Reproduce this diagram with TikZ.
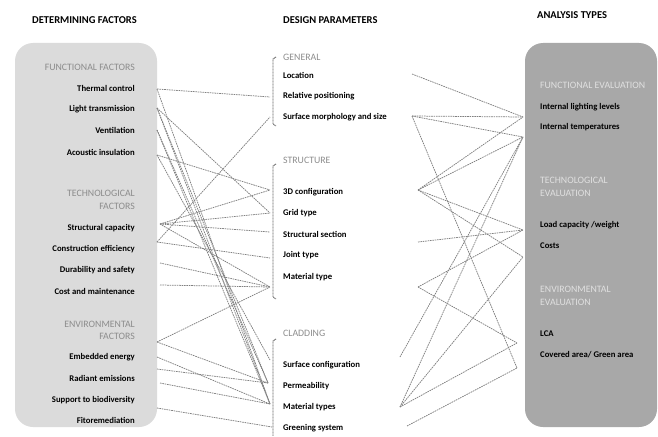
\documentclass[tikz,border=0pt]{standalone}
\usepackage{fontspec}
\setmainfont{Carlito}
\usetikzlibrary{positioning}
\tikzset{
  title/.style={font=\fontsize{10.5}{12}\selectfont\bfseries, anchor=west, inner sep=0pt},
  factor/.style={font=\fontsize{8.7}{10}\selectfont\bfseries, anchor=east, inner sep=0pt},
  param/.style={font=\fontsize{8.7}{10}\selectfont\bfseries, anchor=west, inner sep=0pt},
  group/.style={font=\fontsize{9.8}{12.3}\selectfont, text=black!45, inner sep=0pt},
  evalgroup/.style={group, text=black!12, anchor=west, align=left},
  leftbox/.style={fill=black!14, rounded corners=18pt},
  rightbox/.style={fill=black!34, rounded corners=18pt},
  link/.style={draw=black!50, line width=0.75pt, dash pattern=on 1.6pt off 0.8pt},
  bracket/.style={draw=black!60, line width=0.9pt, dash pattern=on 1pt off 0.5pt}
}

\begin{document}
\begin{tikzpicture}[x=1pt,y=-1pt]
  \useasboundingbox (0,0) rectangle (658,436);

  % Draw the two grey boxes.
  \fill[leftbox] (15,43) rectangle (157,427);
  \fill[rightbox] (525,43) rectangle (657,427);

  % Column titles.
  \node[title] (det-title) at (32,20) {DETERMINING FACTORS};
  \node[title] (des-title) at (283,20) {DESIGN PARAMETERS};
  \node[title] (ana-title) at (537,15) {ANALYSIS TYPES};

  % Determining factors.
  \node[group, anchor=east] (func-grp) at (135,67) {FUNCTIONAL FACTORS};
  \node[factor] (thermal-t) at (135,88) {Thermal control};
  \node[factor] (light-t) at (135,109) {Light transmission};
  \node[factor] (vent-t) at (135,130) {Ventilation};
  \node[factor] (acoustic-t) at (135,152) {Acoustic insulation};
  \node[group, anchor=east, align=right] (tech-grp) at (135,200) {TECHNOLOGICAL\\FACTORS};
  \node[factor] (strcap-t) at (135,228) {Structural capacity};
  \node[factor] (constr-t) at (135,249) {Construction efficiency};
  \node[factor] (durab-t) at (135,270) {Durability and safety};
  \node[factor] (costmain-t) at (135,291) {Cost and maintenance};
  \node[group, anchor=east, align=right] (env-grp) at (135,330) {ENVIRONMENTAL\\FACTORS};
  \node[factor] (embed-t) at (135,357) {Embedded energy};
  \node[factor] (radiant-t) at (135,378) {Radiant emissions};
  \node[factor] (biodiv-t) at (135,400) {Support to biodiversity};
  \node[factor] (fitorem-t) at (135,420) {Fitoremediation};

  % Design parameters.
  \node[group, anchor=west] (gen-grp) at (283,57) {GENERAL};
  \node[param] (location-t) at (283,75) {Location};
  \node[param] (relpos-t) at (283,96) {Relative positioning};
  \node[param] (surfmorph-t) at (283,117) {Surface morphology and size};
  \node[group, anchor=west] (str-grp) at (283,160) {STRUCTURE};
  \node[param] (config-t) at (283,192) {3D configuration};
  \node[param] (grid-t) at (283,213) {Grid type};
  \node[param] (section-t) at (283,234) {Structural section};
  \node[param] (joint-t) at (283,255) {Joint type};
  \node[param] (material-t) at (283,277) {Material type};
  \node[group, anchor=west] (clad-grp) at (283,333) {CLADDING};
  \node[param] (surfconf-t) at (283,365) {Surface configuration};
  \node[param] (perm-t) at (283,386) {Permeability};
  \node[param] (materials-t) at (283,407) {Material types};
  \node[param] (greening-t) at (283,428) {Greening system};

  % Brackets of the design parameter groups.
  \draw[bracket] (276,57) -- (273,59) -- (273,124) -- (276,126);
  \draw[bracket] (276,164) -- (273,166) -- (273,297) -- (276,299);
  \draw[bracket] (276,339) -- (273,341) -- (273,436);

  % Analysis types.
  \node[evalgroup] (feval-grp) at (540,85) {FUNCTIONAL EVALUATION};
  \node[param] (lighting-t) at (540,107) {Internal lighting levels};
  \node[param] (temps-t) at (540,127) {Internal temperatures};
  \node[evalgroup] (teval-grp) at (540,187) {TECHNOLOGICAL\\EVALUATION};
  \node[param] (load-t) at (540,225) {Load capacity /weight};
  \node[param] (costs-t) at (540,246) {Costs};
  \node[evalgroup] (eeval-grp) at (540,296) {ENVIRONMENTAL\\EVALUATION};
  \node[param] (lca-t) at (540,334) {LCA};
  \node[param] (covered-t) at (540,355) {Covered area/ Green area};

  % Line ends on the left.
  \coordinate (thermal) at (157,89);
  \coordinate (light) at (157,108);
  \coordinate (vent) at (157,130);
  \coordinate (acoustic) at (157,155);
  \coordinate (strcap) at (160,224);
  \coordinate (constr) at (157,242);
  \coordinate (durab) at (160,263);
  \coordinate (costmain) at (160,285);
  \coordinate (envfac) at (157,342);
  \coordinate (embed) at (157,357);
  \coordinate (radiant) at (157,369);
  \coordinate (biodiv) at (160,383);
  \coordinate (fitorem) at (157,408);

  % Line ends in the middle.
  \coordinate (relpos-w) at (270,97);
  \coordinate (surfmorph-w) at (270,117);
  \coordinate (config-w) at (270,190);
  \coordinate (grid-w) at (270,213);
  \coordinate (section-w) at (270,232);
  \coordinate (joint-w) at (270,258);
  \coordinate (material-w) at (270,287);
  \coordinate (surfconf-w) at (270,360);
  \coordinate (perm-w) at (268,383);
  \coordinate (materials-w) at (270,404);
  \coordinate (greening-w) at (272,427);
  \coordinate (location-e) at (412,74);
  \coordinate (surfmorph-e) at (412,116);
  \coordinate (config-e) at (418,190);
  \coordinate (section-e) at (418,242);
  \coordinate (material-e) at (418,287);
  \coordinate (surfconf-e) at (400,357);
  \coordinate (materials-e) at (400,407);
  \coordinate (greening-e) at (407,426);

  % Line ends on the right.
  \coordinate (lighting) at (523,117);
  \coordinate (temps) at (523,137);
  \coordinate (load) at (523,230);
  \coordinate (costs) at (523,257);
  \coordinate (lca) at (517,343);
  \coordinate (covered) at (517,368);

  % Draw links from factors to parameters.
  \foreach \a/\b in {thermal/relpos-w, thermal/materials-w, light/grid-w, light/perm-w,
      light/materials-w, vent/perm-w, vent/materials-w, acoustic/config-w, acoustic/surfconf-w,
      constr/surfmorph-w, strcap/config-w, strcap/grid-w, strcap/section-w, strcap/material-w,
      constr/joint-w, durab/material-w, costmain/material-w, envfac/material-w, envfac/perm-w,
      embed/materials-w, radiant/perm-w, biodiv/materials-w, fitorem/greening-w}
    \draw[link] (\a) -- (\b);

  % Draw links from parameters to analysis types.
  \foreach \a/\b in {location-e/lighting, surfmorph-e/lighting, surfmorph-e/temps, surfmorph-e/covered,
      config-e/lighting, config-e/temps, config-e/load, config-e/costs, section-e/load,
      material-e/load, material-e/lca, surfconf-e/temps, materials-e/temps, materials-e/costs,
      materials-e/lca, greening-e/covered}
    \draw[link] (\a) -- (\b);
\end{tikzpicture}
\end{document}
